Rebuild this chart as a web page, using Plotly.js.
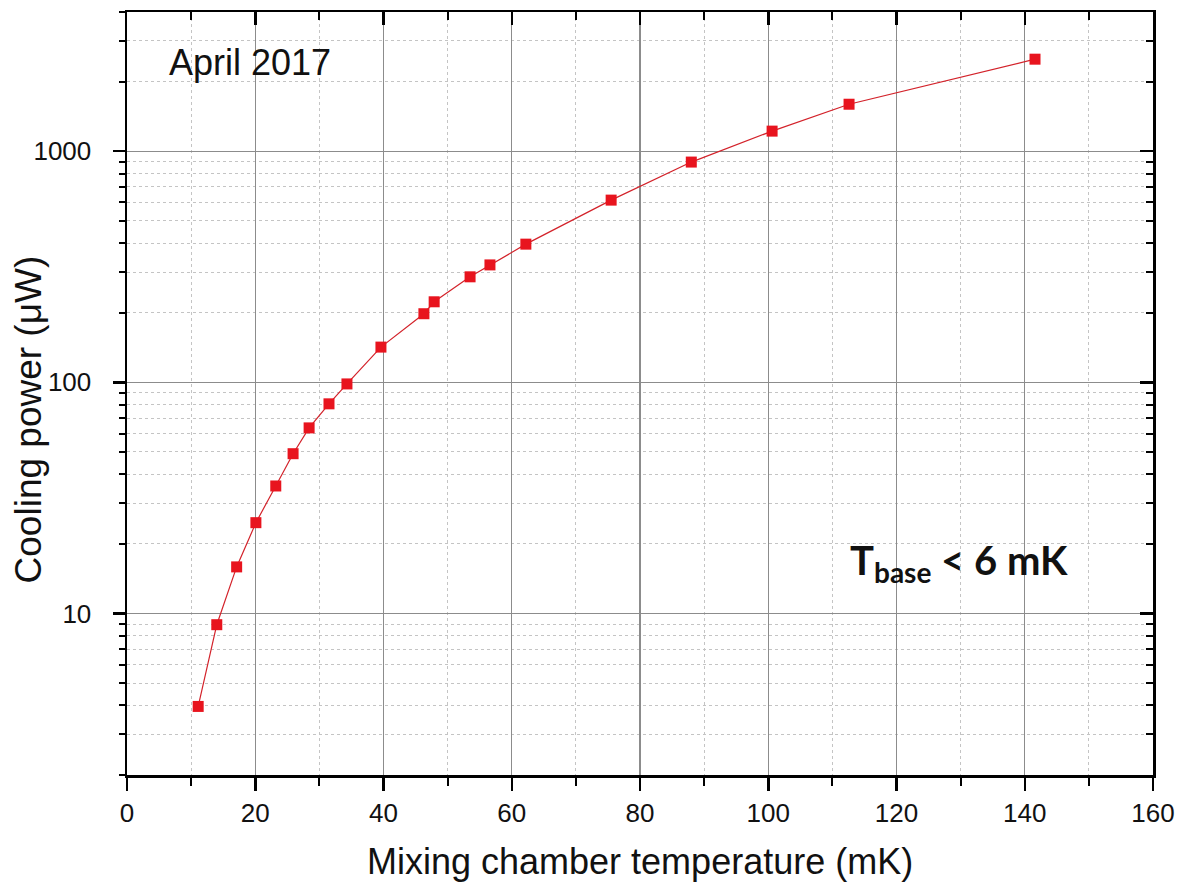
<!DOCTYPE html>
<html>
<head>
<meta charset="utf-8">
<script src="https://cdn.plot.ly/plotly-3.0.1.min.js"></script>
<style>html,body{margin:0;padding:0;background:#fff;}#chart{width:1183px;height:891px;}</style>
</head>
<body>
<div id="chart"></div>
<script>
// Mixing chamber temperature (mK)
const temperature = [11.1, 14.0, 17.1, 20.1, 23.2, 25.9, 28.4, 31.5, 34.3, 39.6, 46.3, 47.9, 53.5, 56.6, 62.2, 75.5, 88.0, 100.6, 112.6, 141.6];
// Cooling power (µW)
const coolingPower = [3.96, 8.94, 15.9, 24.7, 35.6, 49.1, 63.5, 80.7, 98.4, 142, 198, 223, 286, 322, 396, 614, 897, 1221, 1596, 2500];

const xMajorTicks = [0, 20, 40, 60, 80, 100, 120, 140, 160];
const xMinorTicks = [10, 30, 50, 70, 90, 110, 130, 150];
const yMajorTicks = [10, 100, 1000];
const yMajorLabels = ["10", "100", "1000"];
const yMinorTicks = [2,3,4,5,6,7,8,9,20,30,40,50,60,70,80,90,200,300,400,500,600,700,800,900,2000,3000,4000];

const xTitle = "Mixing chamber temperature (mK)";
const yTitle = "Cooling power (\u03bcW)";
const dateLabel = "April 2017";
const baseLabel = "T<sub>base</sub> &lt; 6 mK";

const xRange = [0, 160];
const yRange = [Math.log10(2), Math.log10(4000)];

const fontFam = "Liberation Sans, Arial, sans-serif";

const trace = {
  x: temperature,
  y: coolingPower,
  type: "scatter",
  mode: "lines+markers",
  line: {color: "#d3222a", width: 1.2},
  marker: {symbol: "square", size: 11, color: "#e8141e", line: {width: 0}},
  showlegend: false,
  hoverinfo: "x+y"
};

const layout = {
  width: 1183,
  height: 891,
  margin: {l: 127, r: 30, t: 12, b: 116},
  paper_bgcolor: "#ffffff",
  plot_bgcolor: "#ffffff",
  font: {family: fontFam, color: "#111"},
  xaxis: {
    range: xRange,
    tickvals: xMajorTicks,
    ticks: "outside",
    ticklen: 13,
    tickwidth: 2.5,
    tickcolor: "#000",
    tickfont: {size: 26, family: fontFam, color: "#111"},
    showline: true,
    linecolor: "#000",
    linewidth: 2.5,
    mirror: true,
    showgrid: true,
    gridcolor: "#8c8c8c",
    gridwidth: 1.2,
    zeroline: false,
    minor: {tickvals: xMinorTicks, ticks: "outside", ticklen: 8, tickwidth: 2, tickcolor: "#000",
            showgrid: true, gridcolor: "#c4c4c4", gridwidth: 1, griddash: "3px,3px"}
  },
  yaxis: {
    type: "log",
    range: yRange,
    tickvals: yMajorTicks,
    ticktext: yMajorLabels,
    ticks: "outside",
    ticklen: 12,
    tickwidth: 2.5,
    tickcolor: "#000",
    ticklabelstandoff: 16,
    tickfont: {size: 26, family: fontFam, color: "#111"},
    showline: true,
    linecolor: "#000",
    linewidth: 2.5,
    mirror: true,
    showgrid: true,
    gridcolor: "#8c8c8c",
    gridwidth: 1.2,
    zeroline: false,
    minor: {tickvals: yMinorTicks, ticks: "outside", ticklen: 6, tickwidth: 2, tickcolor: "#000",
            showgrid: true, gridcolor: "#c4c4c4", gridwidth: 1, griddash: "3px,3px"}
  },
  xaxis2: {
    overlaying: "x", anchor: "y", side: "top", range: xRange,
    tickvals: xMajorTicks, ticks: "inside", ticklen: 13, tickwidth: 2.5, tickcolor: "#000",
    showticklabels: false, showgrid: false, showline: false, zeroline: false,
    minor: {tickvals: xMinorTicks, ticks: "inside", ticklen: 8, tickwidth: 2, tickcolor: "#000", showgrid: false}
  },
  yaxis2: {
    overlaying: "y", anchor: "x", side: "right", type: "log", range: yRange,
    tickvals: yMajorTicks, ticks: "inside", ticklen: 13, tickwidth: 2.5, tickcolor: "#000",
    showticklabels: false, showgrid: false, showline: false, zeroline: false,
    minor: {tickvals: yMinorTicks, ticks: "inside", ticklen: 7, tickwidth: 2, tickcolor: "#000", showgrid: false}
  },
  annotations: [
    {xref: "paper", yref: "paper", x: 0.5, y: -0.114, xanchor: "center", yanchor: "middle",
     text: xTitle, showarrow: false, font: {size: 36, family: fontFam, color: "#111"}},
    {xref: "paper", yref: "paper", x: -0.0965, y: 0.466, xanchor: "center", yanchor: "middle",
     text: yTitle, textangle: -90, showarrow: false, font: {size: 37, family: fontFam, color: "#111"}},
    {xref: "paper", yref: "paper", x: 0.039, y: 0.934, xanchor: "left", yanchor: "middle",
     text: dateLabel, showarrow: false, font: {size: 36, family: fontFam, color: "#111"}},
    {xref: "paper", yref: "paper", x: 0.703, y: 0.278, xanchor: "left", yanchor: "middle",
     text: baseLabel, showarrow: false,
     font: {size: 40, family: "Lato, Open Sans, sans-serif", weight: "bold", color: "#111"}}
  ]
};

const dummy2 = {x: [null], y: [null], xaxis: "x2", yaxis: "y2", type: "scatter", mode: "markers", showlegend: false, hoverinfo: "skip"};

Plotly.newPlot("chart", [trace, dummy2], layout, {displayModeBar: false, staticPlot: true});
</script>
</body>
</html>
